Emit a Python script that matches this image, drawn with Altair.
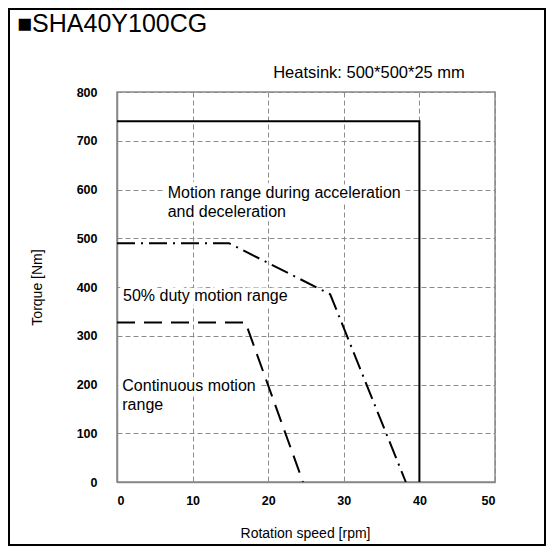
import altair as alt
import pandas as pd

# ---- data ----
solid_x = [0, 40, 40]
solid_y = [740, 740, 0]
duty_x = [0, 14.8, 28.2, 38.2]
duty_y = [490, 490, 385, 0]
cont_x = [0, 17, 24.6]
cont_y = [327, 327, 0]

x_ticks = [0, 10, 20, 30, 40, 50]
y_ticks = [0, 100, 200, 300, 400, 500, 600, 700, 800]

note_text = ["Motion range during acceleration", "and deceleration",
             "50% duty motion range", "Continuous motion", "range"]
note_x = [6.7, 6.7, 0.8, 0.7, 0.7]
note_y = [593, 554, 382, 197, 158]

title_text = "■SHA40Y100CG"
heatsink_text = "Heatsink: 500*500*25 mm"

FONT = "Liberation Sans"
GRID = dict(grid=True, gridColor="#8c8c8c", gridDash=[5, 3], gridWidth=1,
            domainColor="#888888", domainWidth=1.5, ticks=False, tickSize=0,
            labelFont=FONT, labelFontWeight="bold", labelFontSize=12.5, labelColor="black",
            titleFont=FONT, titleFontWeight="normal", titleFontSize=14, titleColor="black")

def line_df(xs, ys):
    return pd.DataFrame({"x": xs, "y": ys, "i": list(range(len(xs)))})

xsc = alt.Scale(domain=[0, 50], nice=False, zero=False)
ysc = alt.Scale(domain=[0, 800], nice=False, zero=False)

xax = alt.Axis(values=x_ticks, title="Rotation speed [rpm]", labelPadding=12,
               titleX=188, titleY=51, titleBaseline="middle", **GRID)
yax = alt.Axis(values=y_ticks, title="Torque [Nm]", labelPadding=20,
               titleX=-80, titleY=195, titleBaseline="middle", **GRID)

X = alt.X("x:Q", scale=xsc, axis=xax)
Y = alt.Y("y:Q", scale=ysc, axis=yax)

def line_layer(xs, ys, dash):
    kw = {"strokeDash": dash} if dash else {}
    return alt.Chart(line_df(xs, ys)).mark_line(
        color="black", strokeWidth=2, strokeCap="butt", **kw
    ).encode(x=X, y=Y, order="i:Q")

NOTE_SIZE = 16
notes_df = pd.DataFrame({"t": note_text, "x": note_x, "y": note_y})
halo = alt.Chart(notes_df).mark_text(align="left", baseline="middle", font=FONT, fontSize=NOTE_SIZE,
                                     color="white", stroke="white", strokeWidth=9,
                                     strokeJoin="round").encode(x=X, y=Y, text="t:N")
notes = alt.Chart(notes_df).mark_text(align="left", baseline="middle", font=FONT, fontSize=NOTE_SIZE,
                                      color="black").encode(x=X, y=Y, text="t:N")

one = alt.Data(values=[{}])
border = alt.Chart(one).mark_rect(fill="transparent", stroke="black", strokeWidth=2).encode(
    x=alt.value(-108), x2=alt.value(428), y=alt.value(-83), y2=alt.value(453))
title = alt.Chart(one).mark_text(text=title_text, align="left", baseline="middle", font=FONT,
                                 fontSize=25, color="black").encode(
    x=alt.value(-100), y=alt.value(-68))
heat = alt.Chart(one).mark_text(text=heatsink_text, align="center", baseline="middle", font=FONT,
                                fontSize=16.5, color="black").encode(
    x=alt.value(252), y=alt.value(-19))

chart = alt.layer(
    line_layer(solid_x, solid_y, None),
    halo, notes,
    line_layer(duty_x, duty_y, [18, 6, 2, 6]),
    line_layer(cont_x, cont_y, [18, 9]),
    border, title, heat,
).properties(
    width=378, height=390, autosize="none", background="white",
    padding={"left": 109, "top": 84, "right": 51, "bottom": 64},
).configure_view(stroke="#888888", strokeWidth=1.5)

chart.save("out.html", embed_options={"renderer": "svg", "actions": False})
